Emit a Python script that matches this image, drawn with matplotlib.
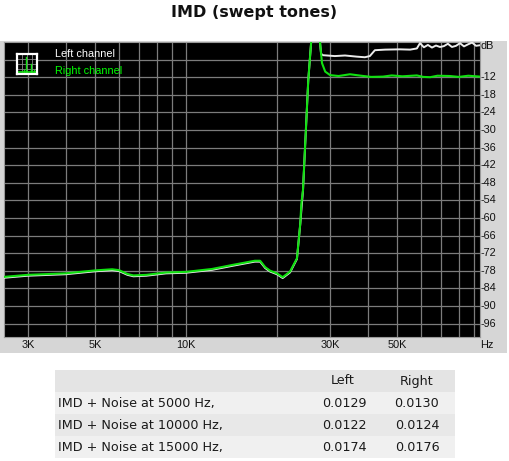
import matplotlib
matplotlib.use("Agg")
import matplotlib.pyplot as plt
from matplotlib.patches import Rectangle

# ---------------- data ----------------
right_freq_khz = [2.5, 3.0, 4.0, 5.0, 5.7, 6.0, 6.4, 6.7, 7.4, 8.6, 10.0, 12.2, 14.3,
                  16.9, 17.6, 18.3, 19.0, 20.0, 20.9, 22.1, 23.3, 23.9, 24.1, 24.4,
                  25.4, 26.1, 27.6, 28.2, 28.9, 30.0, 32.0, 34.9, 38.0, 41.0, 44.9,
                  48.0, 52.0, 58.1, 61.0, 64.3, 68.0, 74.8, 80.0, 86.0, 94.0]
right_db = [-80.1, -79.4, -78.9, -77.9, -77.5, -77.8, -79.1, -79.6, -79.4, -78.6, -78.4,
            -77.4, -76.0, -74.6, -74.6, -76.8, -78.0, -78.9, -80.2, -78.3, -73.8, -61.9,
            -55.0, -50.5, -13.0, 3.0, 3.0, -7.2, -10.1, -11.3, -11.6, -11.0, -11.5,
            -11.9, -11.8, -11.4, -11.7, -11.4, -11.9, -12.0, -11.5, -11.6, -11.9,
            -11.5, -11.8]

left_freq_khz = [2.5, 3.0, 4.0, 5.0, 5.7, 6.0, 6.4, 6.7, 7.4, 8.6, 10.0, 12.2, 14.3,
                 16.9, 17.6, 18.3, 19.0, 20.0, 20.9, 22.1, 23.3, 23.9, 24.4, 25.4,
                 26.1, 27.6, 28.0, 28.4, 31.1, 33.6, 36.8, 39.1, 40.6, 42.2, 45.6,
                 51.1, 55.2, 58.1, 59.5, 61.3, 63.2, 65.2, 67.2, 69.3, 71.4, 73.6,
                 75.9, 78.3, 80.7, 83.2, 85.8, 88.5, 91.2, 94.0]
left_db = [-80.4, -79.7, -79.2, -78.2, -77.8, -78.1, -79.4, -79.9, -79.7, -78.9, -78.7,
           -77.7, -76.3, -74.9, -74.9, -77.1, -78.3, -79.2, -80.5, -78.6, -74.0, -62.0,
           -50.5, -13.0, 3.0, 3.0, -4.0, -4.5, -4.8, -4.6, -5.0, -5.2, -4.8, -2.8,
           -2.6, -2.5, -2.6, -2.2, -0.4, -1.8, -1.0, -1.9, -1.2, -1.7, -1.4, -0.6,
           -1.7, -1.3, -0.4, -1.5, -0.8, -0.2, -1.3, -1.1]

x_grid_hz = [3000, 4000, 5000, 6000, 7000, 8000, 9000, 10000, 20000, 30000, 40000,
             50000, 60000, 70000, 80000, 90000]
x_labels = {3000: "3K", 5000: "5K", 10000: "10K", 30000: "30K", 50000: "50K"}
y_grid_db = [-6, -12, -18, -24, -30, -36, -42, -48, -54, -60, -66, -72, -78, -84, -90, -96]
y_label_db = [-12, -18, -24, -30, -36, -42, -48, -54, -60, -66, -72, -78, -84, -90, -96]

table_header = ["", "Left", "Right"]
table_rows = ["IMD + Noise at 5000 Hz,", "IMD + Noise at 10000 Hz,", "IMD + Noise at 15000 Hz,"]
table_left = ["0.0129", "0.0122", "0.0174"]
table_right = ["0.0130", "0.0124", "0.0176"]

# ---------------- figure ----------------
W, H = 510, 461
fig = plt.figure(figsize=(W / 100, H / 100), dpi=100)
fig.patch.set_facecolor("white")

def fx(px):
    return px / W

def fy(py):
    return 1 - py / H

# gray panel behind plot
fig.patches.append(Rectangle((0, fy(353)), fx(507), (353 - 41) / H,
                             transform=fig.transFigure, facecolor="#d6d6d6",
                             edgecolor="none", zorder=-5))

fig.text(fx(254), fy(12), "IMD (swept tones)", ha="center", va="center",
         fontsize=11.5, fontweight="bold", family="DejaVu Sans", color="#111111")

ax = fig.add_axes([fx(4), fy(337), (480 - 4) / W, (337 - 42) / H])
ax.set_zorder(1)
ax.set_facecolor("black")
ax.set_xscale("log")
ax.set_xlim(2500, 94000)
ax.set_ylim(-100.6, 0)
ax.set_xticks([])
ax.set_yticks([])
ax.minorticks_off()
for s in ax.spines.values():
    s.set_color("#9a9a9a")
    s.set_linewidth(0.8)

for xv in x_grid_hz:
    ax.axvline(xv, color="#7c7c7c", lw=0.9, zorder=1)
for yv in y_grid_db:
    ax.axhline(yv, color="#7c7c7c", lw=0.9, zorder=1)

ax.plot([f * 1000 for f in left_freq_khz], left_db, color="#ececec", lw=1.4, zorder=3)
ax.plot([f * 1000 for f in right_freq_khz], right_db, color="#10e010", lw=1.5, zorder=4)

tick_font = dict(family="Liberation Sans", fontsize=7.8, color="#111111")
xt = ax.get_xaxis_transform()
for xv, lab in x_labels.items():
    ax.text(xv, -0.027, lab, transform=xt, ha="center", va="center", clip_on=False, **tick_font)
fig.text(fx(487), fy(345), "Hz", ha="center", va="center", **tick_font)

yt = ax.get_yaxis_transform()
for yv in y_label_db:
    ax.text(1.002, yv, str(yv), transform=yt, ha="left", va="center", clip_on=False, **tick_font)
ax.text(1.002, -1.3, "dB", transform=yt, ha="left", va="center", clip_on=False, **tick_font)

# legend icon
icon = fig.add_axes([fx(17), fy(74), 20 / W, 20 / H])
icon.set_zorder(2)
icon.set_facecolor("black")
icon.set_xlim(0, 10)
icon.set_ylim(0, 10)
icon.set_xticks([])
icon.set_yticks([])
for s in icon.spines.values():
    s.set_color("white")
    s.set_linewidth(1.6)
for v in [2.5, 5, 7.5]:
    icon.axvline(v, color="#8a8a8a", lw=0.6)
    icon.axhline(v, color="#8a8a8a", lw=0.6)
icon.plot([0.5, 9.5], [1.2, 1.2], color="#10e010", lw=1.2)
for xs, hs in [(4.5, 8.5), (6.8, 5.0), (3.5, 2.2), (8.5, 2.0)]:
    icon.plot([xs, xs], [1.2, hs], color="#10e010", lw=1.0)

leg_font = dict(family="Liberation Sans", fontsize=7.8)
ax.text(fx(55) / ((480 - 4) / W) - fx(4) / ((480 - 4) / W), 0, "", transform=ax.transAxes)
fig.text(fx(55), fy(54), "Left channel", ha="left", va="center", color="white", zorder=10, **leg_font)
fig.text(fx(55), fy(71), "Right channel", ha="left", va="center", color="#00ff00", zorder=10, **leg_font)

# ---------------- table ----------------
row_tops = [370, 392, 414, 436]
row_colors = ["#e4e4e4", "#f0f0f0", "#e8e8e8", "#f0f0f0"]
for top, col in zip(row_tops, row_colors):
    fig.patches.append(Rectangle((fx(55), fy(top + 22)), 400 / W, 22 / H,
                                 transform=fig.transFigure, facecolor=col,
                                 edgecolor="none", zorder=-5))
tf = dict(family="DejaVu Sans", fontsize=9.2, color="#1a1a1a", va="center")
fig.text(fx(343), fy(381), table_header[1], ha="center", **tf)
fig.text(fx(417), fy(381), table_header[2], ha="center", **tf)
for i, (lab, lv, rv) in enumerate(zip(table_rows, table_left, table_right)):
    yc = row_tops[i + 1] + 11
    fig.text(fx(58), fy(yc), lab, ha="left", **tf)
    fig.text(fx(344), fy(yc), lv, ha="center", **tf)
    fig.text(fx(417), fy(yc), rv, ha="center", **tf)

fig.savefig("out.png", dpi=100)
